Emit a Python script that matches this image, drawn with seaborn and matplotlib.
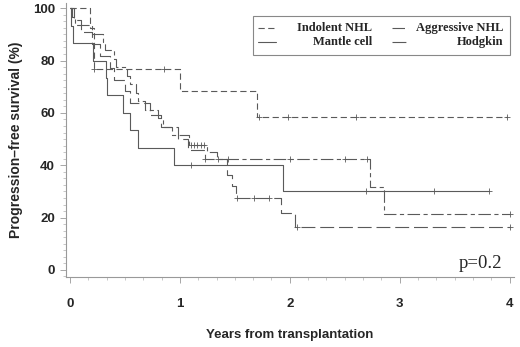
import numpy as np
import pandas as pd
import matplotlib
matplotlib.use('Agg')
import matplotlib.pyplot as plt
from matplotlib.lines import Line2D
from matplotlib.patches import Rectangle
from matplotlib.ticker import MultipleLocator
import seaborn as sns

# Kaplan-Meier steps (time in years, survival %)
indolent_t = [0, 0.18, 0.22, 1.00, 1.70, 3.98]
indolent_s = [100, 92.3, 76.9, 68.4, 58.6, 58.6]
indolent_ct = [0.22, 0.86, 1.72, 1.98, 2.60, 3.98]
indolent_cs = [76.9, 76.9, 58.6, 58.6, 58.6, 58.6]

mantle_t = [0, 0.01, 0.03, 0.21, 0.33, 0.34, 0.48, 0.55, 0.62, 0.95, 1.94, 3.81]
mantle_s = [100, 93.3, 86.7, 80.0, 73.3, 66.7, 60.0, 53.3, 46.7, 40.0, 30.0, 30.0]
mantle_ct = [1.10, 2.69, 3.31, 3.81]
mantle_cs = [40.0, 30.0, 30.0, 30.0]

aggressive_t = [0, 0.02, 0.05, 0.20, 0.30, 0.32, 0.40, 0.42, 0.52, 0.55, 0.60, 0.62,
                0.68, 0.80, 0.85, 0.93, 1.08, 1.25, 1.34, 2.73, 2.86, 4.00]
aggressive_s = [100, 96.8, 93.5, 90.3, 87.1, 83.9, 80.6, 77.4, 74.2, 71.0, 67.7, 64.5,
                61.3, 58.1, 54.8, 51.6, 47.7, 45.0, 42.4, 31.8, 21.2, 21.2]
aggressive_ct = [1.10, 1.13, 1.16, 1.19, 1.22, 1.44, 2.00, 2.50, 2.70, 4.00]
aggressive_cs = [47.7, 47.7, 47.7, 47.7, 47.7, 42.4, 42.4, 42.4, 42.4, 21.2]

hodgkin_t = [0, 0.04, 0.10, 0.20, 0.27, 0.36, 0.40, 0.50, 0.55, 0.73, 0.83, 0.98,
             1.07, 1.23, 1.43, 1.47, 1.51, 1.92, 2.05, 4.00]
hodgkin_s = [100, 95.5, 90.9, 86.4, 81.8, 77.3, 72.7, 68.2, 63.6, 59.1, 54.5, 50.0,
             46.0, 42.4, 36.4, 32.0, 27.4, 21.9, 16.4, 16.4]
hodgkin_ct = [1.23, 1.35, 1.52, 1.67, 1.81, 2.07, 4.00]
hodgkin_cs = [42.4, 42.4, 27.4, 27.4, 27.4, 16.4, 16.4]

groups = ['Indolent NHL', 'Aggressive NHL', 'Mantle cell', 'Hodgkin']
curve_t = [indolent_t, aggressive_t, mantle_t, hodgkin_t]
curve_s = [indolent_s, aggressive_s, mantle_s, hodgkin_s]
cens_t = [indolent_ct, aggressive_ct, mantle_ct, hodgkin_ct]
cens_s = [indolent_cs, aggressive_cs, mantle_cs, hodgkin_cs]

curves = pd.concat([pd.DataFrame({'time': t, 'surv': s, 'group': g})
                    for g, t, s in zip(groups, curve_t, curve_s)], ignore_index=True)
censors = pd.concat([pd.DataFrame({'time': t, 'surv': s, 'group': g})
                     for g, t, s in zip(groups, cens_t, cens_s)], ignore_index=True)

dash_map = {
    'Indolent NHL': (4.5, 2.5),
    'Aggressive NHL': (9, 2.5, 3, 2.5),
    'Mantle cell': '',
    'Hodgkin': (10, 3.5),
}

sns.set_style('white')
plt.rcParams['lines.scale_dashes'] = False
plt.rcParams['font.family'] = ['Liberation Sans', 'DejaVu Sans']

line_col = '#5a5a5a'
fig = plt.figure(figsize=(5.2, 3.47), dpi=100)
ax = fig.add_axes([66 / 520, 1 - 277 / 347, 448 / 520, 274 / 347])

sns.lineplot(data=curves, x='time', y='surv', style='group', dashes=dash_map,
             color=line_col, linewidth=0.8, drawstyle='steps-post',
             estimator=None, sort=False, legend=False, ax=ax)
sns.scatterplot(data=censors, x='time', y='surv', marker='+', s=14,
                color=line_col, linewidth=0.6, legend=False, ax=ax)

ax.set_xlim(-0.036, 4.04)
ax.set_ylim(-2.7, 102)
ax.xaxis.set_major_locator(MultipleLocator(1))
ax.xaxis.set_minor_locator(MultipleLocator(1 / 6))
ax.yaxis.set_major_locator(MultipleLocator(20))
ax.yaxis.set_minor_locator(MultipleLocator(2.5))
ax.tick_params(which='major', direction='out', length=4, width=0.6,
               color='#999999', labelsize=9.5, pad=4)
ax.tick_params(which='minor', direction='out', length=2, width=0.5, color='#b0b0b0')
ax.tick_params(axis='x', pad=11)
ax.tick_params(left=True, bottom=True, which='both')
for lab in ax.get_xticklabels() + ax.get_yticklabels():
    lab.set_fontweight('bold')
for side in ['top', 'right']:
    ax.spines[side].set_visible(False)
for side in ['left', 'bottom']:
    ax.spines[side].set_color('#999999')
    ax.spines[side].set_linewidth(0.8)

ax.set_xlabel('Years from transplantation', fontsize=9.5, fontweight='bold', labelpad=14)
ax.set_ylabel('Progression\u2013free survival (%)', fontsize=10, fontweight='bold', labelpad=7)

# legend box drawn by hand (text right-aligned, serif)
fig.add_artist(Rectangle((253 / 520, 1 - 55 / 347), 257 / 520, 39 / 347,
                         transform=fig.transFigure, fill=False,
                         edgecolor='#888888', linewidth=0.8))
leg_rows = [(0, 28), (1, 28), (2, 42), (3, 42)]
sample_x = [(258, 276), (392, 408), (258, 276), (392, 408)]
text_x = [372, 503, 372, 503]
for (gi, y), (x0, x1), tx in zip(leg_rows, sample_x, text_x):
    g = groups[gi]
    d = dash_map[g]
    ln = Line2D([x0 / 520, x1 / 520], [1 - y / 347, 1 - y / 347], transform=fig.transFigure,
                color=line_col, linewidth=0.8)
    if d:
        ln.set_dashes(d)
    fig.add_artist(ln)
    fig.text(tx / 520, 1 - y / 347, g, ha='right', va='center', fontsize=9,
             fontweight='bold', family=['Liberation Serif', 'DejaVu Serif'])

fig.text(502 / 520, 1 - 263 / 347, 'p=0.2', ha='right', va='center', fontsize=13.5,
         family=['Liberation Serif', 'DejaVu Serif'])

fig.savefig('out.png', dpi=100)
